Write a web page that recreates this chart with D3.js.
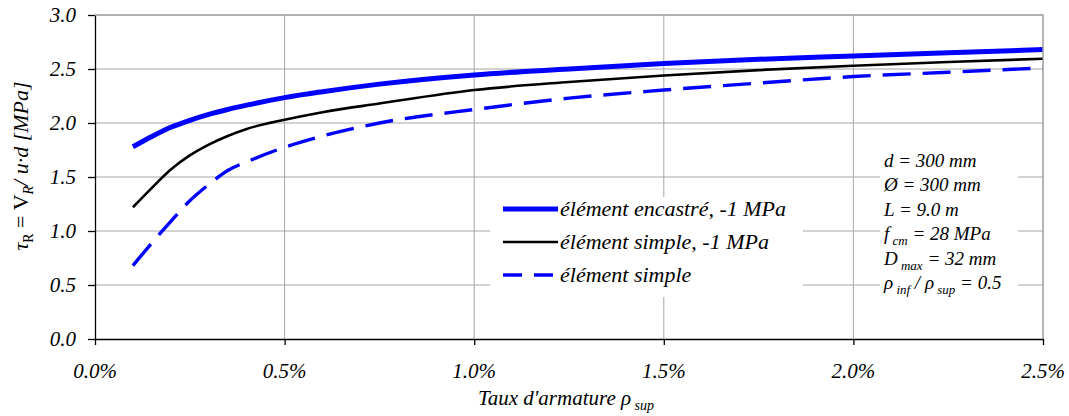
<!DOCTYPE html>
<html>
<head>
<meta charset="utf-8">
<script src="https://cdn.jsdelivr.net/npm/d3@7"></script>
<style>
  html, body { margin:0; padding:0; background:#fff; }
  svg { display:block; }
  .grid line { stroke:#a6a6a6; stroke-width:1; }
</style>
</head>
<body>
<svg id="chart" width="1069" height="416"></svg>
<script>
// --- data (reinforcement ratio in fraction, tau in MPa) ----------------------
const rho = [0.001, 0.0015, 0.002, 0.0025, 0.003, 0.0035, 0.004, 0.005, 0.006, 0.0075,
             0.010, 0.0125, 0.015, 0.0175, 0.020, 0.0225, 0.025];
const encastre1 = [1.78, 1.875, 1.96, 2.025, 2.08, 2.125, 2.165, 2.235, 2.29, 2.36,
                   2.445, 2.50, 2.55, 2.59, 2.62, 2.65, 2.68];
const simple1   = [1.22, 1.40, 1.57, 1.70, 1.80, 1.88, 1.945, 2.03, 2.10, 2.18,
                   2.305, 2.38, 2.44, 2.49, 2.53, 2.565, 2.595];
const simple    = [0.68, 0.89, 1.09, 1.28, 1.43, 1.56, 1.64, 1.775, 1.88, 2.00,
                   2.125, 2.23, 2.305, 2.37, 2.43, 2.47, 2.51];
const xTicks = [0, 0.005, 0.01, 0.015, 0.02, 0.025];
const yTicks = [0, 0.5, 1.0, 1.5, 2.0, 2.5, 3.0];
const seriesNames = ['élément encastré, -1 MPa', 'élément simple, -1 MPa', 'élément simple'];
const paramLines = [
  [['d = 300 mm']],
  [['Ø = 300 mm']],
  [['L = 9.0 m']],
  [['f'], [' cm', 'sub'], [' = 28 MPa']],
  [['D'], [' max', 'sub'], [' = 32 mm']],
  [['ρ'], [' inf', 'sub'], [' / ρ'], [' sup', 'sub'], [' = 0.5']]
];

const FONT = "'Liberation Serif', 'Times New Roman', Times, Tinos, 'DejaVu Serif', 'Noto Serif', serif";
const svg = d3.select('#chart');
const x = d3.scaleLinear().domain([0, 0.025]).range([95, 1043]);
const y = d3.scaleLinear().domain([0, 3]).range([339, 15]);

// --- grid --------------------------------------------------------------------
const grid = svg.append('g').attr('class', 'grid');
grid.selectAll('line.h').data(yTicks.slice(1)).join('line')
  .attr('x1', x(0)).attr('x2', x(0.025)).attr('y1', d => y(d)).attr('y2', d => y(d));
grid.selectAll('line.v').data(xTicks.slice(1)).join('line')
  .attr('x1', d => x(d)).attr('x2', d => x(d)).attr('y1', y(0)).attr('y2', y(3));

// --- lines -------------------------------------------------------------------
const line = d3.line().x((d, i) => x(rho[i])).y(d => y(d)).curve(d3.curveMonotoneX);
const styles = [
  {data: encastre1, color: '#0000ff', w: 5, dash: null},
  {data: simple1,   color: '#000000', w: 2.6, dash: null},
  {data: simple,    color: '#0000ff', w: 3.4, dash: '28,12'}
];
styles.forEach(s => {
  svg.append('path').attr('d', line(s.data)).attr('fill', 'none')
    .attr('stroke', s.color).attr('stroke-width', s.w)
    .attr('stroke-dasharray', s.dash);
});

// --- axes --------------------------------------------------------------------
const ax = svg.append('g').attr('transform', `translate(0,${y(0)})`)
  .call(d3.axisBottom(x).tickValues(xTicks).tickSize(6).tickSizeOuter(0).tickFormat(''));
const ay = svg.append('g').attr('transform', `translate(${x(0)},0)`)
  .call(d3.axisLeft(y).tickValues(yTicks).tickSize(7).tickSizeOuter(0).tickFormat(''));
[ax, ay].forEach(a => { a.selectAll('path,line').attr('stroke', '#000').attr('stroke-width', 1.3); });

const T = sel => sel.attr('font-family', FONT).attr('font-style', 'italic').attr('fill', '#000');

T(svg.selectAll('text.xt').data(xTicks).join('text').attr('class', 'xt'))
  .attr('x', d => x(d)).attr('y', 378).attr('text-anchor', 'middle')
  .attr('font-size', 21).text(d3.format('.1%'));
T(svg.selectAll('text.yt').data(yTicks).join('text').attr('class', 'yt'))
  .attr('x', 76).attr('y', d => y(d)).attr('dy', '0.34em').attr('text-anchor', 'end')
  .attr('font-size', 21).text(d3.format('.1f'));

// axis titles
const xt = T(svg.append('text')).attr('x', 566).attr('y', 405).attr('text-anchor', 'middle')
  .attr('font-size', 21);
xt.append('tspan').text("Taux d'armature  ρ");
xt.append('tspan').attr('dy', 5).attr('font-size', 14).text(' sup');

const yt = T(svg.append('text')).attr('transform', 'translate(28,166) rotate(-90)')
  .attr('text-anchor', 'middle').attr('font-size', 22);
yt.append('tspan').text('τ');
yt.append('tspan').attr('dy', 5).attr('font-size', 14).attr('font-style', 'normal').text('R');
yt.append('tspan').attr('dy', -5).attr('font-style', 'normal').text(' = V');
yt.append('tspan').attr('dy', 5).attr('font-size', 14).text('R');
yt.append('tspan').attr('dy', -5).text('/ u·d [MPa]');

// --- legend ------------------------------------------------------------------
svg.append('rect').attr('x', 490).attr('y', 197).attr('width', 313).attr('height', 100).attr('fill', '#fff');
const lg = svg.selectAll('g.leg').data(styles).join('g').attr('class', 'leg')
  .attr('transform', (d, i) => `translate(503,${209 + i * 33})`);
lg.append('line').attr('x1', 0).attr('x2', 55)
  .attr('stroke', d => d.color).attr('stroke-width', d => d.w)
  .attr('stroke-dasharray', d => d.dash ? '19,12' : null);
T(lg.append('text')).attr('x', 57).attr('dy', '0.33em').attr('font-size', 22)
  .text((d, i) => seriesNames[i]);

// --- parameters box ----------------------------------------------------------
svg.append('rect').attr('x', 880).attr('y', 146).attr('width', 138).attr('height', 152).attr('fill', '#fff');
paramLines.forEach((parts, i) => {
  const t = T(svg.append('text')).attr('x', 884).attr('y', 167 + i * 24.4).attr('font-size', 19);
  let sub = false;
  parts.forEach(([s, kind]) => {
    const ts = t.append('tspan').text(s);
    if (kind === 'sub' && !sub) { ts.attr('dy', 5).attr('font-size', 13); sub = true; }
    else if (kind !== 'sub' && sub) { ts.attr('dy', -5); sub = false; }
  });
});

// frame on top/right
svg.append('path').attr('d', `M${x(0)},${y(3)}H${x(0.025)}V${y(0)}`)
  .attr('fill', 'none').attr('stroke', '#a6a6a6').attr('stroke-width', 1.3);
</script>
</body>
</html>
